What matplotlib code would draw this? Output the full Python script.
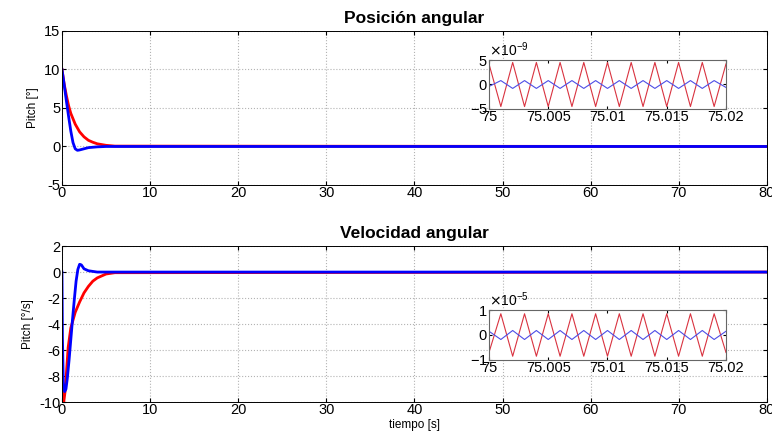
import matplotlib.pyplot as plt
from matplotlib.ticker import ScalarFormatter

# posicion angular (pitch, grados)
t_pos_red = [0, 0.25, 0.5, 0.75, 1.0, 1.5, 2.0, 2.5, 3.0, 3.5, 4.0, 5.0, 6.0, 80]
pos_red = [10, 8.1, 6.6, 5.3, 4.3, 2.9, 1.9, 1.25, 0.8, 0.55, 0.35, 0.15, 0.05, 0]
t_pos_blue = [0, 0.25, 0.5, 0.75, 1.0, 1.25, 1.5, 1.75, 2.0, 2.5, 3.0, 4.0, 5.0, 80]
pos_blue = [10, 8.0, 5.9, 3.9, 2.0, 0.5, -0.3, -0.5, -0.45, -0.3, -0.15, -0.05, 0, 0]

# velocidad angular (grados/s)
t_vel_red = [0, 0.1, 0.2, 0.35, 0.5, 0.7, 1.0, 1.5, 2.0, 2.5, 3.0, 3.5, 4.0, 5.0, 6.0, 80]
vel_red = [-7, -9.6, -10, -9.2, -7.8, -5.8, -4.3, -3.1, -2.3, -1.6, -1.1, -0.7, -0.45, -0.15, -0.05, 0]
t_vel_blue = [0, 0.05, 0.15, 0.3, 0.45, 0.6, 0.8, 1.0, 1.2, 1.4, 1.6, 1.8, 2.0, 2.2, 2.5, 3.0, 3.5, 4.0, 80]
vel_blue = [0, -5, -8.5, -9.2, -9.0, -8.2, -6.8, -5.2, -3.6, -2.1, -0.7, 0.2, 0.6, 0.55, 0.25, 0.1, 0.05, 0, 0]

# zoom en t = 75..75.02 (vertices de la oscilacion)
t_zoom = [75.0, 75.001, 75.002, 75.003, 75.004, 75.005, 75.006, 75.007, 75.008, 75.009, 75.010,
          75.011, 75.012, 75.013, 75.014, 75.015, 75.016, 75.017, 75.018, 75.019, 75.020]
pos_zoom_red = [4.2e-9, -4.5e-9, 4.5e-9, -4.5e-9, 4.5e-9, -4.5e-9, 4.5e-9, -4.5e-9, 4.5e-9, -4.5e-9, 4.5e-9,
                -4.5e-9, 4.5e-9, -4.5e-9, 4.5e-9, -4.5e-9, 4.5e-9, -4.5e-9, 4.5e-9, -4.5e-9, 4.2e-9]
pos_zoom_blue = [-0.4e-9, 0.8e-9, -0.8e-9, 0.8e-9, -0.8e-9, 0.8e-9, -0.8e-9, 0.8e-9, -0.8e-9, 0.8e-9, -0.8e-9,
                 0.8e-9, -0.8e-9, 0.8e-9, -0.8e-9, 0.8e-9, -0.8e-9, 0.8e-9, -0.8e-9, 0.8e-9, -0.6e-9]
vel_zoom_red = [-0.7e-5, 0.85e-5, -0.85e-5, 0.85e-5, -0.85e-5, 0.85e-5, -0.85e-5, 0.85e-5, -0.85e-5, 0.85e-5, -0.85e-5,
                0.85e-5, -0.85e-5, 0.85e-5, -0.85e-5, 0.85e-5, -0.85e-5, 0.85e-5, -0.85e-5, 0.85e-5, -0.7e-5]
vel_zoom_blue = [0.15e-5, -0.18e-5, 0.18e-5, -0.18e-5, 0.18e-5, -0.18e-5, 0.18e-5, -0.18e-5, 0.18e-5, -0.18e-5, 0.18e-5,
                 -0.18e-5, 0.18e-5, -0.18e-5, 0.18e-5, -0.18e-5, 0.18e-5, -0.18e-5, 0.18e-5, -0.18e-5, 0.15e-5]

zoom_ticks = [75, 75.005, 75.01, 75.015, 75.02]
zoom_labels = ['75', '75.005', '75.01', '75.015', '75.02']

plt.rcParams['font.family'] = ['Liberation Sans', 'DejaVu Sans']
plt.rcParams['axes.unicode_minus'] = False
plt.rcParams['xtick.direction'] = 'in'
plt.rcParams['ytick.direction'] = 'in'

fig = plt.figure(figsize=(7.72, 4.32), dpi=100)

ax1 = fig.add_axes([0.0803, 0.5718, 0.913, 0.3565])
ax2 = fig.add_axes([0.0803, 0.0694, 0.913, 0.361])

ax1.plot(t_pos_red, pos_red, color='red', lw=2)
ax1.plot(t_pos_blue, pos_blue, color='blue', lw=2)
ax1.set_xlim(0, 80)
ax1.set_ylim(-5, 15)
ax1.set_yticks([-5, 0, 5, 10, 15])
ax1.set_title('Posición angular', fontsize=12.5, fontweight='bold', pad=6)
ax1.set_ylabel('Pitch [°]', fontsize=8.5)

ax2.plot(t_vel_red, vel_red, color='red', lw=2)
ax2.plot(t_vel_blue, vel_blue, color='blue', lw=2)
ax2.set_xlim(0, 80)
ax2.set_ylim(-10, 2)
ax2.set_yticks([-10, -8, -6, -4, -2, 0, 2])
ax2.set_title('Velocidad angular', fontsize=12.5, fontweight='bold', pad=6)
ax2.set_ylabel('Pitch [°/s]', fontsize=8.5)
ax2.set_xlabel('tiempo [s]', fontsize=8.5, labelpad=1)

for ax in (ax1, ax2):
    ax.set_xticks(range(0, 81, 10))
    ax.grid(True, color='0.7', linestyle=':', linewidth=0.8)
    ax.tick_params(labelsize=10.5, top=True, right=True, length=3, pad=1)
    for s in ax.spines.values():
        s.set_linewidth(0.7)

ins1 = fig.add_axes([0.6334, 0.7477, 0.307, 0.1134])
ins1.plot(t_zoom, pos_zoom_red, color=(0.85, 0.2, 0.25), lw=0.8)
ins1.plot(t_zoom, pos_zoom_blue, color=(0.3, 0.3, 0.9), lw=0.8)
ins1.set_ylim(-5e-9, 5e-9)
ins1.set_yticks([-5e-9, 0, 5e-9])

ins2 = fig.add_axes([0.6334, 0.1667, 0.307, 0.1157])
ins2.plot(t_zoom, vel_zoom_red, color=(0.85, 0.2, 0.25), lw=0.8)
ins2.plot(t_zoom, vel_zoom_blue, color=(0.3, 0.3, 0.9), lw=0.8)
ins2.set_ylim(-1e-5, 1e-5)
ins2.set_yticks([-1e-5, 0, 1e-5])

for ins in (ins1, ins2):
    ins.set_xlim(75, 75.02)
    ins.set_xticks(zoom_ticks)
    ins.set_xticklabels(zoom_labels)
    fmt = ScalarFormatter(useMathText=True)
    fmt.set_powerlimits((0, 0))
    ins.yaxis.set_major_formatter(fmt)
    ins.yaxis.get_offset_text().set_fontsize(10)
    ins.tick_params(labelsize=10.5, top=True, right=True, length=2, pad=1)
    for s in ins.spines.values():
        s.set_color('0.4')
        s.set_linewidth(0.8)

fig.savefig('out.png', dpi=100)
